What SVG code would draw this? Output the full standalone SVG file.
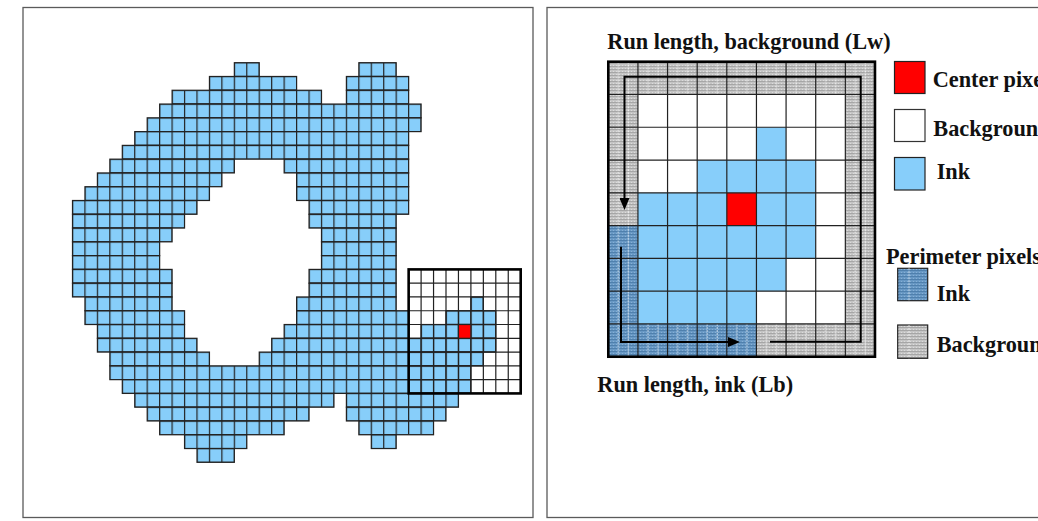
<svg xmlns="http://www.w3.org/2000/svg" width="1038" height="521" viewBox="0 0 1038 521">
<style>
.frame{fill:none;stroke:#5a5a5a;stroke-width:1.3}
.ink{fill:url(#inkCells);stroke:#222;stroke-width:1.2}
.gl{stroke:#222;stroke-width:1.2;fill:none}
.lbl{font-family:"Liberation Serif","Times New Roman",serif;font-weight:bold;font-size:22.3px;fill:#111}
.arrow{fill:none;stroke:#000;stroke-width:2}
.pbg{fill:url(#dotG)}
.pink{fill:url(#dotB)}
.pvl{fill:url(#vlines)}
</style>
<defs>
<pattern id="inkCells" patternUnits="userSpaceOnUse" x="71.9" y="62.1" width="12.45" height="13.78">
<rect width="12.45" height="13.78" fill="#87CEFA"/>
<rect width="1.2" height="13.78" fill="#222"/>
<rect width="12.45" height="1.2" fill="#222"/>
</pattern>
<pattern id="dotG" patternUnits="userSpaceOnUse" width="3" height="3">
<rect width="3" height="3" fill="#c4c4c4"/>
<rect width="3" height="1" fill="#a6a6a6"/>
<rect x="1" y="2" width="1" height="1" fill="#dcdcdc"/>
</pattern>
<pattern id="dotB" patternUnits="userSpaceOnUse" width="3" height="3">
<rect width="3" height="3" fill="#6898c4"/>
<rect width="3" height="1" fill="#4f80ad"/>
<rect x="1" y="2" width="1" height="1" fill="#86b0d6"/>
</pattern>
<pattern id="vlines" patternUnits="userSpaceOnUse" x="608.3" y="61.7" width="29.63" height="32.78">
<line x1="10" y1="0" x2="10" y2="32.78" stroke="#fff" stroke-width="1" stroke-dasharray="2 1" opacity="0.7"/>
<line x1="20" y1="0" x2="20" y2="32.78" stroke="#fff" stroke-width="1" stroke-dasharray="2 1" opacity="0.7"/>
</pattern>
<marker id="ah" viewBox="0 0 12 10" refX="0" refY="5" markerWidth="12" markerHeight="10" markerUnits="userSpaceOnUse" orient="auto">
<path d="M0,0 L12,5 L0,10 z" fill="#000"/>
</marker>
</defs>
<rect width="1038" height="521" fill="#fff"/>

<g id="left-panel">
<rect class="frame" x="23" y="7.5" width="510" height="510"/>
<g id="window-bg"><rect x="408.65" y="269.4" width="112.05" height="124.02" fill="#fff"/></g>
<g id="ink-shape">
<rect class="ink" x="234.35" y="62.7" width="24.9" height="13.78"/>
<rect class="ink" x="358.85" y="62.7" width="37.35" height="13.78"/>
<rect class="ink" x="209.45" y="76.48" width="87.15" height="13.78"/>
<rect class="ink" x="346.4" y="76.48" width="62.25" height="13.78"/>
<rect class="ink" x="172.1" y="90.26" width="149.4" height="13.78"/>
<rect class="ink" x="346.4" y="90.26" width="62.25" height="13.78"/>
<rect class="ink" x="159.65" y="104.04" width="261.45" height="13.78"/>
<rect class="ink" x="147.2" y="117.82" width="273.9" height="13.78"/>
<rect class="ink" x="134.75" y="131.6" width="273.9" height="13.78"/>
<rect class="ink" x="122.3" y="145.38" width="286.35" height="13.78"/>
<rect class="ink" x="109.85" y="159.16" width="124.5" height="13.78"/>
<rect class="ink" x="284.15" y="159.16" width="124.5" height="13.78"/>
<rect class="ink" x="97.4" y="172.94" width="124.5" height="13.78"/>
<rect class="ink" x="296.6" y="172.94" width="112.05" height="13.78"/>
<rect class="ink" x="84.95" y="186.72" width="124.5" height="13.78"/>
<rect class="ink" x="296.6" y="186.72" width="112.05" height="13.78"/>
<rect class="ink" x="72.5" y="200.5" width="124.5" height="13.78"/>
<rect class="ink" x="309.05" y="200.5" width="99.6" height="13.78"/>
<rect class="ink" x="72.5" y="214.28" width="112.05" height="13.78"/>
<rect class="ink" x="309.05" y="214.28" width="87.15" height="13.78"/>
<rect class="ink" x="72.5" y="228.06" width="99.6" height="13.78"/>
<rect class="ink" x="321.5" y="228.06" width="74.7" height="13.78"/>
<rect class="ink" x="72.5" y="241.84" width="87.15" height="13.78"/>
<rect class="ink" x="321.5" y="241.84" width="74.7" height="13.78"/>
<rect class="ink" x="72.5" y="255.62" width="87.15" height="13.78"/>
<rect class="ink" x="321.5" y="255.62" width="74.7" height="13.78"/>
<rect class="ink" x="72.5" y="269.4" width="99.6" height="13.78"/>
<rect class="ink" x="309.05" y="269.4" width="87.15" height="13.78"/>
<rect class="ink" x="72.5" y="283.18" width="99.6" height="13.78"/>
<rect class="ink" x="309.05" y="283.18" width="87.15" height="13.78"/>
<rect class="ink" x="84.95" y="296.96" width="87.15" height="13.78"/>
<rect class="ink" x="296.6" y="296.96" width="99.6" height="13.78"/>
<rect class="ink" x="470.9" y="296.96" width="12.45" height="13.78"/>
<rect class="ink" x="84.95" y="310.74" width="99.6" height="13.78"/>
<rect class="ink" x="296.6" y="310.74" width="112.05" height="13.78"/>
<rect class="ink" x="446" y="310.74" width="49.8" height="13.78"/>
<rect class="ink" x="97.4" y="324.52" width="87.15" height="13.78"/>
<rect class="ink" x="284.15" y="324.52" width="124.5" height="13.78"/>
<rect class="ink" x="421.1" y="324.52" width="74.7" height="13.78"/>
<rect class="ink" x="97.4" y="338.3" width="99.6" height="13.78"/>
<rect class="ink" x="271.7" y="338.3" width="224.1" height="13.78"/>
<rect class="ink" x="109.85" y="352.08" width="99.6" height="13.78"/>
<rect class="ink" x="259.25" y="352.08" width="224.1" height="13.78"/>
<rect class="ink" x="109.85" y="365.86" width="361.05" height="13.78"/>
<rect class="ink" x="122.3" y="379.64" width="348.6" height="13.78"/>
<rect class="ink" x="134.75" y="393.42" width="199.2" height="13.78"/>
<rect class="ink" x="346.4" y="393.42" width="112.05" height="13.78"/>
<rect class="ink" x="147.2" y="407.2" width="161.85" height="13.78"/>
<rect class="ink" x="346.4" y="407.2" width="99.6" height="13.78"/>
<rect class="ink" x="159.65" y="420.98" width="124.5" height="13.78"/>
<rect class="ink" x="358.85" y="420.98" width="74.7" height="13.78"/>
<rect class="ink" x="184.55" y="434.76" width="62.25" height="13.78"/>
<rect class="ink" x="371.3" y="434.76" width="24.9" height="13.78"/>
<rect class="ink" x="197" y="448.54" width="37.35" height="13.78"/>
</g>
<g id="window">
<path class="gl" d="M421.1,269.4V393.42M433.55,269.4V393.42M446,269.4V393.42M458.45,269.4V393.42M470.9,269.4V393.42M483.35,269.4V393.42M495.8,269.4V393.42M508.25,269.4V393.42M408.65,283.18H520.7M408.65,296.96H520.7M408.65,310.74H520.7M408.65,324.52H520.7M408.65,338.3H520.7M408.65,352.08H520.7M408.65,365.86H520.7M408.65,379.64H520.7"/>
<rect x="458.45" y="324.52" width="12.45" height="13.78" fill="#ff0000" stroke="#222" stroke-width="1.2"/>
<rect x="408.65" y="269.4" width="112.05" height="124.02" fill="none" stroke="#000" stroke-width="2.6"/>
</g>
</g>

<g id="right-panel">
<rect class="frame" x="547" y="7.5" width="520" height="510"/>
<g id="zoom-grid">
<rect x="608.3" y="61.7" width="266.67" height="295.02" fill="#fff"/>
<rect class="pbg" x="608.3" y="61.7" width="266.67" height="32.78"/>
<rect class="pbg" x="608.3" y="94.48" width="29.63" height="131.12"/>
<rect class="pbg" x="845.34" y="94.48" width="29.63" height="262.24"/>
<rect class="pbg" x="756.45" y="323.94" width="88.89" height="32.78"/>
<rect class="pink" x="608.3" y="225.6" width="29.63" height="98.34"/>
<rect class="pink" x="608.3" y="323.94" width="148.15" height="32.78"/>
<rect class="pvl" x="608.3" y="61.7" width="266.67" height="32.78"/>
<rect class="pvl" x="608.3" y="94.48" width="29.63" height="229.46"/>
<rect class="pvl" x="845.34" y="94.48" width="29.63" height="262.24"/>
<rect class="pvl" x="608.3" y="323.94" width="237.04" height="32.78"/>
<g fill="#87CEFA">
<rect x="756.45" y="127.26" width="29.63" height="32.78"/>
<rect x="697.19" y="160.04" width="118.52" height="32.78"/>
<rect x="637.93" y="192.82" width="88.89" height="32.78"/>
<rect x="756.45" y="192.82" width="59.26" height="32.78"/>
<rect x="637.93" y="225.6" width="177.78" height="32.78"/>
<rect x="637.93" y="258.38" width="148.15" height="32.78"/>
<rect x="637.93" y="291.16" width="118.52" height="32.78"/>
</g>
<rect x="726.82" y="192.82" width="29.63" height="32.78" fill="#ff0000"/>
<path class="gl" d="M637.93,61.7V356.72M667.56,61.7V356.72M697.19,61.7V356.72M726.82,61.7V356.72M756.45,61.7V356.72M786.08,61.7V356.72M815.71,61.7V356.72M845.34,61.7V356.72M608.3,94.48H874.97M608.3,127.26H874.97M608.3,160.04H874.97M608.3,192.82H874.97M608.3,225.6H874.97M608.3,258.38H874.97M608.3,291.16H874.97M608.3,323.94H874.97"/>
<rect x="608.3" y="61.7" width="266.67" height="295.02" fill="none" stroke="#000" stroke-width="2.6"/>
</g>
<g id="connectors">
<path id="arrow-lw" class="arrow" d="M770,341.7H860.7V76.7H624.5V198" marker-end="url(#ah)"/>
<path id="arrow-lb" class="arrow" d="M621,246.7V342H728" marker-end="url(#ah)"/>
</g>
<g id="label-lw"><text class="lbl" x="607.3" y="49">Run length, background (Lw)</text></g>
<g id="label-lb"><text class="lbl" x="597.3" y="391.5">Run length, ink (Lb)</text></g>
<g id="legend-center"><rect x="894.5" y="61.5" width="30.5" height="32" fill="#ff0000" stroke="#222" stroke-width="1.2"/><text class="lbl" x="932.7" y="87.3">Center pixel</text></g>
<g id="legend-background"><rect x="894.5" y="109.5" width="30.5" height="32" fill="#fff" stroke="#333" stroke-width="1.2"/><text class="lbl" x="933.3" y="136">Background</text></g>
<g id="legend-ink"><rect x="894.5" y="157.5" width="30.5" height="32.5" fill="#87CEFA" stroke="#222" stroke-width="1.2"/><text class="lbl" x="936.7" y="179.3">Ink</text></g>
<g id="legend-perimeter"><text class="lbl" x="886" y="263.5">Perimeter pixels</text></g>
<g id="legend-perim-ink"><rect class="pink" x="897.7" y="268.3" width="30" height="32.4" stroke="#222" stroke-width="1.2"/><line x1="909" y1="268.3" x2="909" y2="300.7" stroke="#fff" stroke-dasharray="2 1" opacity="0.7"/><text class="lbl" x="936.7" y="300.5">Ink</text></g>
<g id="legend-perim-bg"><rect class="pbg" x="897.7" y="325" width="30" height="33.3" stroke="#222" stroke-width="1.2"/><line x1="909" y1="325" x2="909" y2="358.3" stroke="#fff" stroke-dasharray="2 1" opacity="0.7"/><text class="lbl" x="936.7" y="351.7">Background</text></g>
</g>
</svg>
